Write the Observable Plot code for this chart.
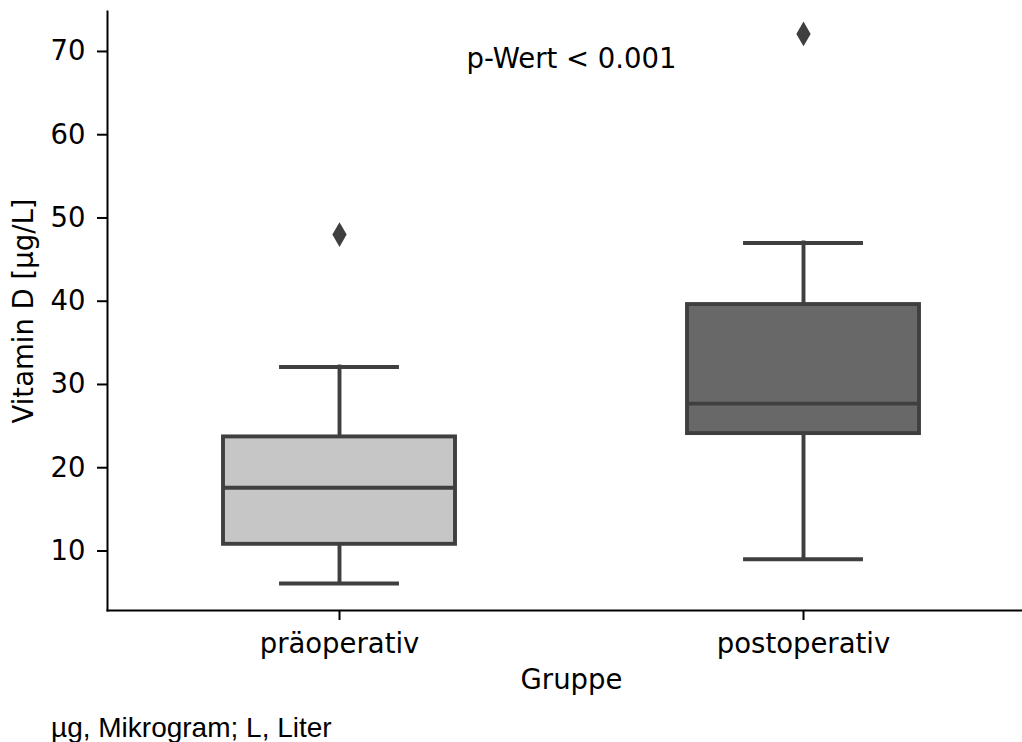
<!DOCTYPE html>
<html>
<head>
<meta charset="utf-8">
<script src="https://cdn.jsdelivr.net/npm/d3@7"></script>
<script src="https://cdn.jsdelivr.net/npm/@observablehq/plot@0.6"></script>
<style>
  html, body { margin: 0; padding: 0; background: #fff; overflow: hidden; }
  body { position: relative; width: 1022px; height: 742px; }
  #chart { width: 1035px; }
  #chart svg { display: block; max-width: none !important; }
  #caption {
    position: absolute; left: 51px; top: 714px;
    font-family: "Liberation Sans", Arial, sans-serif; font-size: 28px; line-height: 28px;
    color: #000; white-space: nowrap;
  }
</style>
</head>
<body>
<div id="chart"></div>
<div id="caption">µg, Mikrogram; L, Liter</div>
<script>
// ---- Data ----
const groups = ["präoperativ", "postoperativ"];
const whiskerLow = [6.1, 9.0];
const quartile1 = [10.8, 24.1];
const median = [17.6, 27.7];
const quartile3 = [23.7, 39.6];
const whiskerHigh = [32.1, 47.0];
const outlierGroups = ["präoperativ", "postoperativ"];
const outlierValues = [48.0, 72.1];
const yTicks = [10, 20, 30, 40, 50, 60, 70];
const pValueLabel = "p-Wert < 0.001";
const pValueLevel = 68;
const xLabel = "Gruppe";
const yLabel = "Vitamin D [µg/L]";

// ---- Tables built from the arrays ----
const boxes = groups.map((g, i) => ({
  group: g, lo: whiskerLow[i], q1: quartile1[i], med: median[i], q3: quartile3[i], hi: whiskerHigh[i]
}));
const outliers = outlierGroups.map((g, i) => ({group: g, value: outlierValues[i]}));

const lineColor = "#3f3f3f";
const lw = 3.9;
const fs = 27.5;

const chart = Plot.plot({
  width: 1035,
  height: 700,
  marginLeft: 107,
  marginRight: 0,
  marginTop: 11,
  marginBottom: 90,
  style: {fontFamily: "DejaVu Sans", fontSize: fs + "px", color: "#000", background: "#fff", maxWidth: "none"},
  x: {type: "band", domain: groups, paddingInner: 0.5, paddingOuter: 0.25, label: null},
  y: {domain: [2.85, 74.8], label: null},
  color: {domain: groups, range: ["#c6c6c6", "#686868"]},
  marks: [
    // whiskers
    Plot.ruleX(boxes, {x: "group", y1: "q3", y2: "hi", stroke: lineColor, strokeWidth: lw, strokeLinecap: "square"}),
    Plot.ruleX(boxes, {x: "group", y1: "lo", y2: "q1", stroke: lineColor, strokeWidth: lw, strokeLinecap: "square"}),
    // caps
    Plot.tickY(boxes, {x: "group", y: "hi", stroke: lineColor, strokeWidth: lw, insetLeft: 58, insetRight: 58, strokeLinecap: "square"}),
    Plot.tickY(boxes, {x: "group", y: "lo", stroke: lineColor, strokeWidth: lw, insetLeft: 58, insetRight: 58, strokeLinecap: "square"}),
    // boxes
    Plot.barY(boxes, {x: "group", y1: "q1", y2: "q3", fill: "group", stroke: lineColor, strokeWidth: lw}),
    // medians
    Plot.tickY(boxes, {x: "group", y: "med", stroke: lineColor, strokeWidth: lw}),
    // outliers
    Plot.dot(outliers, {x: "group", y: "value", symbol: "diamond", r: 7.5, fill: lineColor, stroke: null}),
    // p-value annotation
    Plot.text([pValueLabel], {y: [pValueLevel], text: d => d, lineAnchor: "bottom", fontSize: fs, fill: "#000"}),
    // spines
    Plot.frame({anchor: "left", stroke: "#000", strokeWidth: 2}),
    Plot.frame({anchor: "bottom", stroke: "#000", strokeWidth: 2}),
    // axes
    Plot.axisY(yTicks, {tickSize: 10, tickPadding: 12, stroke: "#000", strokeWidth: 2, label: null}),
    Plot.axisX({tickSize: 10, tickPadding: 13, stroke: "#000", strokeWidth: 2, label: null}),
    // axis labels
    Plot.text([xLabel], {frameAnchor: "bottom", lineAnchor: "bottom", dy: 78, text: d => d, fontSize: fs, fill: "#000"}),
    Plot.text([yLabel], {frameAnchor: "left", textAnchor: "middle", lineAnchor: "bottom", rotate: -90, dx: -75, text: d => d, fontSize: fs, fill: "#000"})
  ]
});
document.getElementById("chart").appendChild(chart);
</script>
</body>
</html>
